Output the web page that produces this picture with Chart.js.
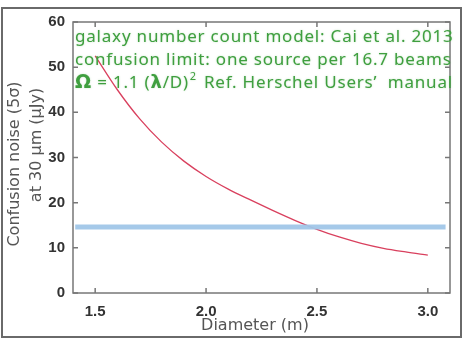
<!DOCTYPE html>
<html lang="en">
<head>
<meta charset="UTF-8">
<title>Confusion noise vs diameter</title>
<style>
  body { margin: 0; background: #fff; }
  #wrap { width: 466px; height: 340px; }
</style>
</head>
<body>
<div id="wrap"><canvas id="chart" width="466" height="340"></canvas></div>
<script src="https://cdn.jsdelivr.net/npm/chart.js"></script>
<script>
// diameter (m) and confusion noise
const diameters = [1.5, 1.6, 1.7, 1.8, 1.9, 2.0, 2.1, 2.2, 2.3, 2.4, 2.5, 2.6, 2.7, 2.8, 2.9, 3.0];
const noise = [52.5, 45.0, 38.6, 33.4, 29.2, 25.8, 23.0, 20.6, 18.3, 16.1, 14.1, 12.4, 11.0, 9.9, 9.1, 8.4];
// horizontal requirement line
const limitX = [1.41, 3.08];
const limitY = 14.6;
const xTicks = [1.5, 2.0, 2.5, 3.0];
const yTicks = [0, 10, 20, 30, 40, 50, 60];
const xTitle = 'Diameter (m)';
const yTitle = ['Confusion noise (5σ)', 'at 30 μm (μJy)'];
const notes = [
  'galaxy number count model: Cai et al. 2013',
  'confusion limit: one source per 16.7 beams'
];

const FONT = '"DejaVu Sans", sans-serif';
const NOTEFONT = '17px "Noto Sans", sans-serif';
const TICKFONT = { family: '"Liberation Sans", Arial, sans-serif', size: 15, weight: 'bold' };

// frame, box and inward ticks, axis titles, plus the green notes
const decor = {
  id: 'decor',
  beforeDraw(chart) {
    const c = chart.ctx;
    c.save();
    c.strokeStyle = '#6a6a6a';
    c.lineWidth = 2;
    c.strokeRect(2, 8, 459, 329);
    c.restore();
  },
  afterDraw(chart) {
    const c = chart.ctx, a = chart.chartArea;
    const xs = chart.scales.x, ys = chart.scales.y;
    c.save();
    c.strokeStyle = '#777';
    c.lineWidth = 1.5;
    c.strokeRect(a.left, a.top, a.right - a.left, a.bottom - a.top);
    c.beginPath();
    xTicks.forEach(v => {
      const px = xs.getPixelForValue(v);
      c.moveTo(px, a.bottom); c.lineTo(px, a.bottom - 5);
      c.moveTo(px, a.top); c.lineTo(px, a.top + 5);
    });
    yTicks.forEach(v => {
      const py = ys.getPixelForValue(v);
      c.moveTo(a.left, py); c.lineTo(a.left + 5, py);
      c.moveTo(a.right, py); c.lineTo(a.right - 5, py);
    });
    c.stroke();

    // axis titles
    c.fillStyle = '#555';
    c.font = '16px ' + FONT;
    c.textAlign = 'center';
    c.textBaseline = 'middle';
    c.fillText(xTitle, 255, 326);
    c.save();
    c.translate(15, 164);
    c.rotate(-Math.PI / 2);
    c.fillText(yTitle[0], 0, 0);
    c.restore();
    c.save();
    c.translate(37, 145);
    c.rotate(-Math.PI / 2);
    c.fillText(yTitle[1], 0, 0);
    c.restore();

    // notes
    c.textAlign = 'left';
    c.fillStyle = '#3f9f3f';
    c.shadowColor = 'rgba(80,170,80,0.35)';
    c.shadowBlur = 2;
    c.textBaseline = 'alphabetic';
    c.letterSpacing = '0.8px';
    c.font = NOTEFONT;
    const x0 = a.left + 2;
    c.fillText(notes[0], x0, 42);
    c.fillText(notes[1], x0, 65);
    let x = x0;
    c.font = 'bold 19px "DejaVu Sans", sans-serif';
    c.fillText('Ω', x, 88);
    x += c.measureText('Ω').width;
    c.font = NOTEFONT;
    c.fillText(' = 1.1 (', x, 88);
    x += c.measureText(' = 1.1 (').width;
    c.font = 'bold 18px "DejaVu Sans", sans-serif';
    c.fillText('λ', x, 88);
    x += c.measureText('λ').width;
    c.font = NOTEFONT;
    c.fillText('/D)', x, 88);
    x += c.measureText('/D)').width;
    c.font = '11px "Noto Sans", sans-serif';
    c.fillText('2', x + 1, 80);
    x += c.measureText('2').width + 8;
    c.font = NOTEFONT;
    c.fillText('Ref. Herschel Users\u2019  manual', x, 88);
    c.restore();
  }
};

new Chart(document.getElementById('chart'), {
  type: 'scatter',
  data: {
    datasets: [
      {
        data: limitX.map(x => ({ x: x, y: limitY })),
        showLine: true,
        borderColor: 'rgba(160,198,232,0.95)',
        borderWidth: 5,
        pointRadius: 0
      },
      {
        data: diameters.map((d, i) => ({ x: d, y: noise[i] })),
        showLine: true,
        borderColor: '#d9405e',
        borderWidth: 1.3,
        pointRadius: 0,
        cubicInterpolationMode: 'monotone'
      }
    ]
  },
  options: {
    responsive: false,
    animation: false,
    layout: { padding: { left: 0, top: 22, right: 16, bottom: 0 } },
    plugins: { legend: { display: false }, tooltip: { enabled: false } },
    scales: {
      x: {
        type: 'linear',
        min: 1.4,
        max: 3.1,
        afterBuildTicks: s => { s.ticks = xTicks.map(v => ({ value: v })); },
        afterFit: s => { s.height = 47; },
        grid: { display: false, drawTicks: false },
        border: { display: false },
        ticks: {
          color: '#333',
          padding: 10,
          font: TICKFONT,
          callback: v => v.toFixed(1)
        }
      },
      y: {
        min: 0,
        max: 60,
        afterBuildTicks: s => { s.ticks = yTicks.map(v => ({ value: v })); },
        afterFit: s => { s.width = 73; },
        grid: { display: false, drawTicks: false },
        border: { display: false },
        ticks: {
          color: '#333',
          padding: 8,
          font: TICKFONT
        }
      }
    }
  },
  plugins: [decor]
});
</script>
</body>
</html>
